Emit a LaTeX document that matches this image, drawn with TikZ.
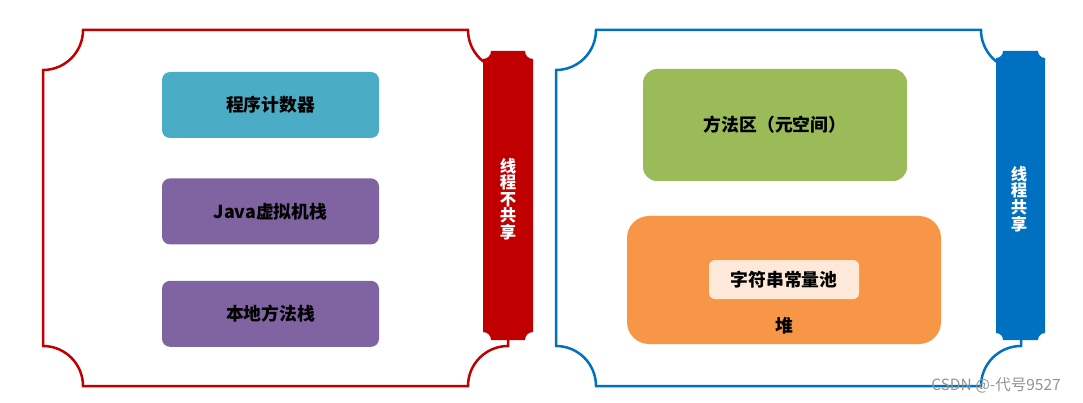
\documentclass[tikz,border=0pt]{standalone}
\usepackage{fontspec}
\newfontfamily\cjk{Noto Sans CJK SC}
\usetikzlibrary{positioning}
\definecolor{frmred}{HTML}{C00000}
\definecolor{frmblue}{HTML}{0070C0}
\definecolor{pcteal}{HTML}{4BACC6}
\definecolor{stackpurple}{HTML}{8064A2}
\definecolor{methgreen}{HTML}{9BBB59}
\definecolor{heaporange}{HTML}{F79646}
\definecolor{poolpink}{HTML}{FDE9D9}

\begin{document}
\begin{tikzpicture}[x=1pt, y=-1pt,
		box/.style={rounded corners=8pt, minimum width=217pt, minimum height=66pt, inner sep=0pt,
				font=\cjk\bfseries\fontsize{17.8}{20}\selectfont},
		frame/.style={line width=2.5pt, line join=miter},
		ribbon text/.style={text=white, align=center, inner sep=0pt,
				font=\cjk\bfseries\fontsize{16.4}{16.6}\selectfont}
	]
	\useasboundingbox (0,0) rectangle (1083,403);

	% left frame, threads do not share
	\draw[frame, frmred] (83,30) -- (468,30) arc[start angle=180, end angle=90, radius=40]
	-- (508,346) arc[start angle=270, end angle=180, radius=40]
	-- (83,386) arc[start angle=0, end angle=-90, radius=40]
	-- (43,70) arc[start angle=90, end angle=0, radius=40] -- cycle;
	\fill[frmred] (491,51) -- (525,51) arc[start angle=180, end angle=90, radius=8]
	-- (533,332) arc[start angle=270, end angle=180, radius=8]
	-- (491,340) arc[start angle=0, end angle=-90, radius=8]
	-- (483,59) arc[start angle=90, end angle=0, radius=8] -- cycle;
	\node[ribbon text] (noshare) at (508,199) {线\\程\\不\\共\\享};

	\node[box, fill=pcteal] (pc) at (270.5,105) {程序计数器};
	\node[box, fill=stackpurple, below=40pt of pc] (jvm) {Java虚拟机栈};
	\node[box, fill=stackpurple, below=36pt of jvm] (native) {本地方法栈};

	% right frame, threads share
	\draw[frame, frmblue] (596,30) -- (981,30) arc[start angle=180, end angle=90, radius=40]
	-- (1021,346) arc[start angle=270, end angle=180, radius=40]
	-- (596,386) arc[start angle=0, end angle=-90, radius=40]
	-- (556,70) arc[start angle=90, end angle=0, radius=40] -- cycle;
	\fill[frmblue] (1003,51) -- (1038,51) arc[start angle=180, end angle=90, radius=7]
	-- (1045,333) arc[start angle=270, end angle=180, radius=7]
	-- (1003,340) arc[start angle=0, end angle=-90, radius=7]
	-- (996,58) arc[start angle=90, end angle=0, radius=7] -- cycle;
	\node[ribbon text] (share) at (1019,199) {线\\程\\共\\享};

	\node[box, fill=methgreen, rounded corners=14pt, minimum width=264pt, minimum height=112pt]
	(meta) at (775,125) {方法区（元空间）};
	\node[box, fill=heaporange, rounded corners=22pt, minimum width=314pt, minimum height=128pt]
	(heap) at (784,280) {};
	\node[box, fill=poolpink, rounded corners=6pt, minimum width=150pt, minimum height=39pt]
	(pool) at (784,279.5) {字符串常量池};
	\node[font=\cjk\bfseries\fontsize{17.8}{20}\selectfont, inner sep=0pt] (heaplabel) at (784,326) {堆};

	\node[font=\cjk\fontsize{15.5}{17}\selectfont, text=black!42, inner sep=0pt] (mark) at (996,385) {CSDN @-代号9527};
\end{tikzpicture}
\end{document}
